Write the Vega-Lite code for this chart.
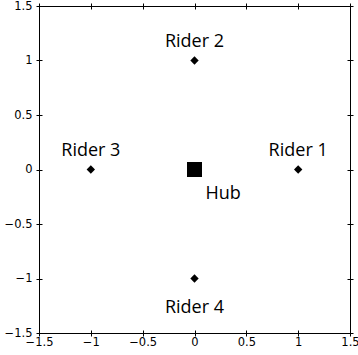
{
  "$schema": "https://vega.github.io/schema/vega-lite/v6.json",
  "autosize": {"type": "none"},
  "padding": {"left": 39, "top": 6, "right": 8, "bottom": 22},
  "width": 311,
  "height": 327,
  "background": "white",
  "config": {
    "view": {"stroke": "black", "strokeWidth": 1},
    "axis": {
      "grid": false,
      "domainColor": "black",
      "tickColor": "black",
      "labelColor": "black",
      "labelFont": "DejaVu Sans",
      "labelFontSize": 11.5,
      "title": null,
      "format": "~g",
      "values": [-1.5, -1, -0.5, 0, 0.5, 1, 1.5],
      "labelFlush": false,
      "labelOverlap": false
    },
    "text": {"font": "Open Sans", "fontSize": 18, "color": "black"}
  },
  "data": {
    "values": [
      {"name": "Rider 1", "x": 1, "y": 0},
      {"name": "Rider 2", "x": 0, "y": 1},
      {"name": "Rider 3", "x": -1, "y": 0},
      {"name": "Rider 4", "x": 0, "y": -1},
      {"name": "Hub", "x": 0, "y": 0}
    ]
  },
  "resolve": {"axis": {"x": "independent", "y": "independent"}},
  "layer": [
    {
      "transform": [{"filter": {"field": "name", "oneOf": ["Rider 1", "Rider 2", "Rider 3", "Rider 4"]}}],
      "mark": {"type": "point", "shape": "diamond", "filled": true, "color": "black", "size": 70, "opacity": 1},
      "encoding": {
        "x": {"field": "x", "type": "quantitative", "scale": {"domain": [-1.5, 1.5], "nice": false, "zero": false},
              "axis": {"orient": "bottom", "tickSize": 3, "labelPadding": 0}},
        "y": {"field": "y", "type": "quantitative", "scale": {"domain": [-1.5, 1.5], "nice": false, "zero": false},
              "axis": {"orient": "left", "tickSize": 3, "labelPadding": 4}}
      }
    },
    {
      "transform": [{"filter": {"field": "name", "equal": "Hub"}}],
      "mark": {"type": "point", "shape": "square", "filled": true, "color": "black", "size": 225, "opacity": 1},
      "encoding": {
        "x": {"field": "x", "type": "quantitative", "axis": {"orient": "bottom", "tickSize": -3, "labels": false}},
        "y": {"field": "y", "type": "quantitative", "axis": {"orient": "left", "tickSize": -3, "labels": false}}
      }
    },
    {
      "transform": [{"filter": {"field": "name", "oneOf": ["Rider 1", "Rider 2", "Rider 3"]}}],
      "mark": {"type": "text", "baseline": "alphabetic", "align": "center", "dy": -14},
      "encoding": {
        "x": {"field": "x", "type": "quantitative", "axis": {"orient": "top", "tickSize": 3, "labels": false}},
        "y": {"field": "y", "type": "quantitative", "axis": {"orient": "right", "tickSize": 3, "labels": false}},
        "text": {"field": "name"}
      }
    },
    {
      "transform": [{"filter": {"field": "name", "equal": "Rider 4"}}],
      "mark": {"type": "text", "baseline": "alphabetic", "align": "center", "dy": 34},
      "encoding": {
        "x": {"field": "x", "type": "quantitative", "axis": {"orient": "top", "tickSize": -3, "labels": false}},
        "y": {"field": "y", "type": "quantitative", "axis": {"orient": "right", "tickSize": -3, "labels": false}},
        "text": {"field": "name"}
      }
    },
    {
      "transform": [{"filter": {"field": "name", "equal": "Hub"}}],
      "mark": {"type": "text", "baseline": "alphabetic", "align": "left", "dx": 11, "dy": 29},
      "encoding": {
        "x": {"field": "x", "type": "quantitative", "axis": null},
        "y": {"field": "y", "type": "quantitative", "axis": null},
        "text": {"field": "name"}
      }
    }
  ]
}
